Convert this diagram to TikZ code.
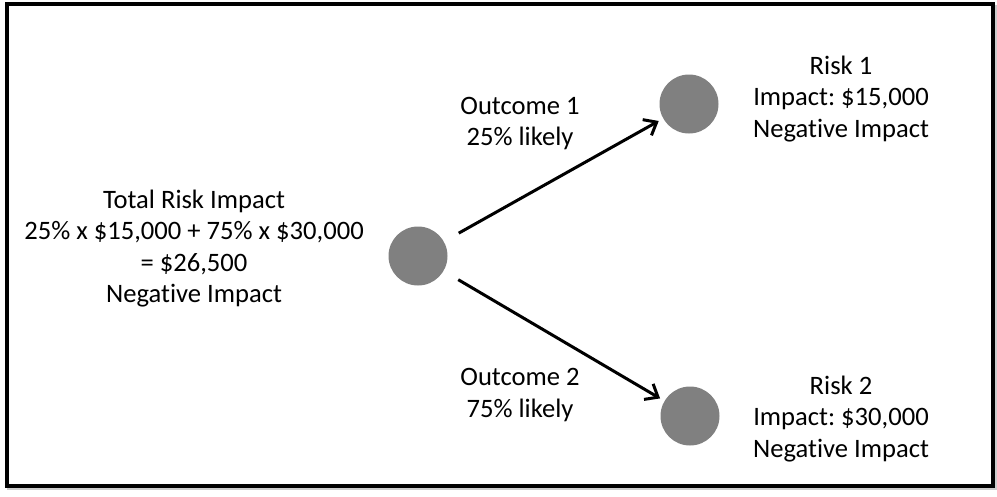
\documentclass[tikz,border=0pt]{standalone}
\usepackage{fontspec}
\setmainfont{Carlito}[Ligatures=NoCommon]
\usetikzlibrary{arrows.meta}
\frenchspacing
\begin{document}
\begin{tikzpicture}[x=1pt,y=-1pt,
  event/.style={circle,fill=black!50,minimum size=59pt,inner sep=0pt},
  lbl/.style={align=center,inner sep=0pt,font=\fontsize{26.6pt}{31.5pt}\selectfont},
  branch/.style={line width=3pt,-{Straight Barb[length=11pt,width=18pt]}}]
\useasboundingbox (0,0) rectangle (997,496);
\draw[line width=4pt,black!20] (9,7) rectangle (995,488);
\draw[line width=4pt,fill=white] (7,4) rectangle (993,486);
\node[event] (c0) at (418,256) {};
\node[event] (r1) at (689,104) {};
\node[event] (r2) at (690,416) {};
\draw[branch,shorten <=17pt,shorten >=5pt] (c0) -- (r1);
\draw[branch,shorten <=17pt,shorten >=5pt] (c0) -- (r2);
\node[lbl] (tot) at (194,248.5) {Total Risk Impact\\25\% x \$15,000 + 75\% x \$30,000\\= \$26,500\\Negative Impact};
\node[lbl] (o1) at (520,123.5) {Outcome 1\\25\% likely};
\node[lbl] (o2) at (520,395) {Outcome 2\\75\% likely};
\node[lbl] (k1) at (841,99) {Risk 1\\Impact: \$15,000\\Negative Impact};
\node[lbl] (k2) at (841,419) {Risk 2\\Impact: \$30,000\\Negative Impact};
\end{tikzpicture}
\end{document}
